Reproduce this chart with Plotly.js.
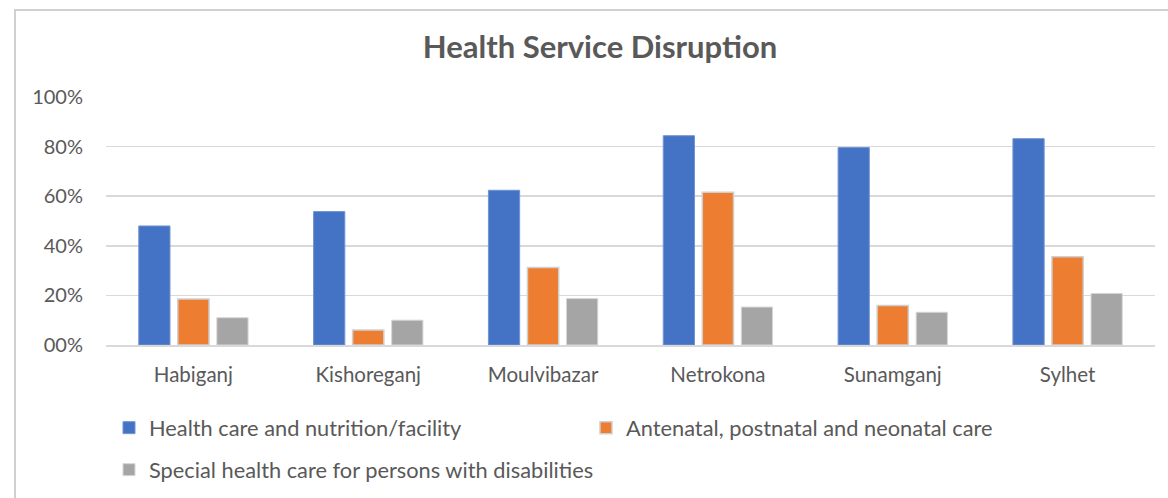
<!DOCTYPE html>
<html>
<head>
<meta charset="utf-8">
<script src="https://cdn.plot.ly/plotly-3.0.1.min.js"></script>
<style>
  html, body { margin: 0; padding: 0; background: #fff; }
  #wrap { position: relative; width: 1168px; height: 498px; overflow: hidden; }
  #frame { position: absolute; left: 14px; top: 9px; width: 1200px; height: 600px;
           border-top: 2px solid #d0d0d0; border-left: 2px solid #d0d0d0; box-sizing: border-box; }
  #chart { position: absolute; left: 0; top: 0; width: 1168px; height: 498px; }
</style>
</head>
<body>
<div id="wrap">
  <div id="frame"></div>
  <div id="chart"></div>
</div>
<script>
const districts = ["Habiganj", "Kishoreganj", "Moulvibazar", "Netrokona", "Sunamganj", "Sylhet"];
const healthCareNutrition = [0.48, 0.538, 0.624, 0.844, 0.796, 0.832];
const antenatalCare = [0.185, 0.06, 0.312, 0.616, 0.159, 0.356];
const specialHealthCare = [0.11, 0.10, 0.187, 0.153, 0.132, 0.208];
const seriesNames = [
  "Health care and nutrition/facility",
  "Antenatal, postnatal and neonatal care",
  "Special health care for persons with disabilities"
];
const yTickVals = [0, 0.2, 0.4, 0.6, 0.8, 1.0];
const yTickText = ["00%", "20%", "40%", "60%", "80%", "100%"];

const font = "Lato, 'Open Sans', sans-serif";
const txt = "#595959";

const traces = [
  { type: "bar", x: districts, y: healthCareNutrition, name: seriesNames[0],
    marker: { color: "#4472C4", line: { color: "#7394d3", width: 1 } }, legend: "legend" },
  { type: "bar", x: districts, y: antenatalCare, name: seriesNames[1],
    marker: { color: "#ED7D31", line: { color: "#cfcfcf", width: 1.5 } }, legend: "legend" },
  { type: "bar", x: districts, y: specialHealthCare, name: seriesNames[2],
    marker: { color: "#A5A5A5", line: { color: "#d6d6d6", width: 1 } }, legend: "legend2" }
];

const layout = {
  width: 1168, height: 498,
  margin: { l: 106, r: 13, t: 97, b: 153 },
  paper_bgcolor: "rgba(0,0,0,0)",
  plot_bgcolor: "rgba(0,0,0,0)",
  font: { family: font, color: txt, size: 20 },
  title: { text: "<b>Health Service Disruption</b>", font: { family: font, size: 31, color: txt },
           xref: "container", x: 600 / 1168, xanchor: "center",
           yref: "container", y: 1 - 47 / 498, yanchor: "middle" },
  barmode: "group",
  bargap: 0.33,
  bargroupgap: 0.2,
  xaxis: { type: "category", showgrid: false, showline: true, linecolor: "#d9d9d9", linewidth: 2,
           ticks: "", tickfont: { family: font, size: 20.5, color: txt }, ticklabelstandoff: 10, fixedrange: true },
  yaxis: { range: [0, 1.0], tickvals: yTickVals, ticktext: yTickText, showgrid: true,
           gridcolor: "#d9d9d9", gridwidth: 1.5, zeroline: false, showline: false, ticks: "",
           tickfont: { family: font, size: 20, color: txt }, ticklabelstandoff: 22, fixedrange: true },
  showlegend: true,
  legend: { orientation: "h", xref: "container", yref: "container", x: 109 / 1168, y: 1 - 428 / 498,
            xanchor: "left", yanchor: "middle", entrywidth: 432, entrywidthmode: "pixels",
            font: { family: font, size: 21.8, color: txt }, itemwidth: 30, bgcolor: "rgba(0,0,0,0)" },
  legend2: { orientation: "h", xref: "container", yref: "container", x: 109 / 1168, y: 1 - 470 / 498,
             xanchor: "left", yanchor: "middle",
             font: { family: font, size: 21.8, color: txt }, itemwidth: 30, bgcolor: "rgba(0,0,0,0)" }
};

Plotly.newPlot("chart", traces, layout, { displayModeBar: false, staticPlot: true });
</script>
</body>
</html>
